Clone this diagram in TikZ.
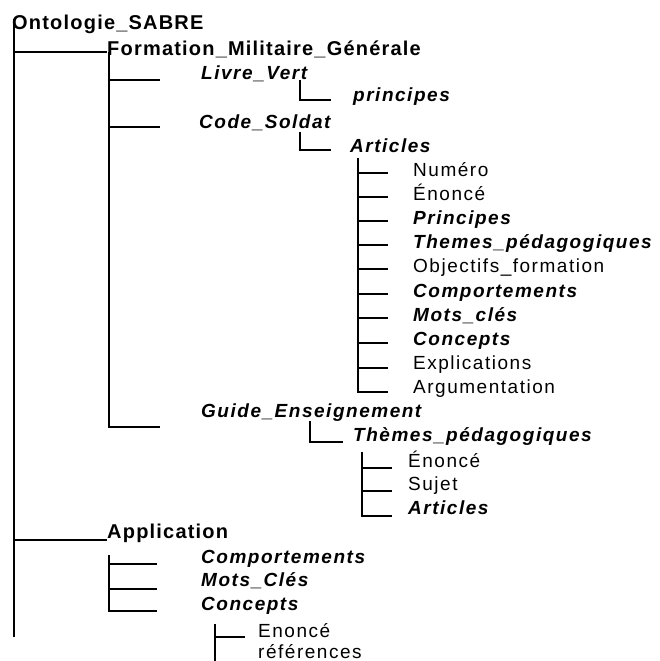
\documentclass[tikz,border=0pt]{standalone}
\usepackage{fontspec}
\newfontfamily\arial[LetterSpace=8]{Liberation Sans}
\newfontfamily\arialgrand[LetterSpace=6]{Liberation Sans}
\usepackage{tikz}

\begin{document}
\begin{tikzpicture}[
    x=1pt, y=-1pt,
    line width=2.4pt,
    text height = 1.5ex,
    text depth = .25ex,
    every node/.style={
        anchor=base west,
        inner sep=0pt,
        % texte normal
        font=\arial\fontsize{19}{21}\selectfont},
    racine/.style={font=\arialgrand\fontsize{20}{22}\selectfont\bfseries},
    classe/.style={font=\arial\fontsize{19}{21}\selectfont\bfseries\itshape}
  ]
  \useasboundingbox (0,0) rectangle (659,661);
  % racine et premier niveau
  \node (racine) [racine] at (11,30) {Ontologie\_SABRE};
  \node (formation) [racine] at (106,56) {Formation\_Militaire\_Générale};
  \node (application) [racine] at (106,538) {Application};
  % Formation_Militaire_Générale
  \node (livre) [classe] at (200,80) {Livre\_Vert};
  \node (principes) [classe] at (352,101) {principes};
  \node (code) [classe] at (198,128) {Code\_Soldat};
  \node (articles) [classe] at (349,152) {Articles};
  \node (numero) at (412,176) {Numéro};
  \node (enonce) at (412,200) {Énoncé};
  \node (principesA) [classe] at (412,224) {Principes};
  \node (themesA) [classe] at (412,248) {Themes\_pédagogiques};
  \node (objectifs) at (412,272) {Objectifs\_formation};
  \node (comportA) [classe] at (412,297) {Comportements};
  \node (motsA) [classe] at (412,321) {Mots\_clés};
  \node (conceptsA) [classe] at (412,345) {Concepts};
  \node (explications) at (412,369) {Explications};
  \node (argumentation) at (412,393) {Argumentation};
  \node (guide) [classe] at (200,417) {Guide\_Enseignement};
  \node (themesG) [classe] at (352,441) {Thèmes\_pédagogiques};
  \node (enonceG) at (407,467) {Énoncé};
  \node (sujet) at (407,490) {Sujet};
  \node (articlesG) [classe] at (407,514) {Articles};
  % Application
  \node (comportB) [classe] at (200,563) {Comportements};
  \node (motsB) [classe] at (200,586) {Mots\_Clés};
  \node (conceptsB) [classe] at (200,610) {Concepts};
  \node (enonceC) at (257,637) {Enoncé};
  \node (references) at (257,658) {références};

  % troncs
  \coordinate (r0) at (14,19);
  \coordinate (f0) at (109,52);
  \coordinate (a0) at (358,158);
  \coordinate (t0) at (362,452);
  \coordinate (p0) at (109,555);
  \coordinate (c0) at (215,624);

  \draw (r0) -- (14,637);
  \draw (r0 |- f0) -- ([xshift=1pt,yshift=4pt]formation.base west);
  \draw (r0 |- 0,540) -- ([xshift=1pt,yshift=-2pt]application.base west);

  \draw (f0) -- (109,427) -- (160,427);
  \draw (f0 |- 0,80) -- (160,80);
  \draw (f0 |- 0,127) -- (160,127);

  \draw (300,80) |- ([xshift=-21pt,yshift=1pt]principes.base west);
  \draw (300,132) |- ([xshift=-18pt,yshift=2pt]articles.base west);
  \draw (310,421) |- ([xshift=-9pt,yshift=-1pt]themesG.base west);

  \draw (a0) -- (358,392) -- (388,392);
  \draw (a0 |- 0,173) -- (388,173);
  \draw (a0 |- 0,197) -- (388,197);
  \draw (a0 |- 0,221) -- (388,221);
  \draw (a0 |- 0,245) -- (388,245);
  \draw (a0 |- 0,269) -- (388,269);
  \draw (a0 |- 0,294) -- (388,294);
  \draw (a0 |- 0,318) -- (388,318);
  \draw (a0 |- 0,343) -- (388,343);
  \draw (a0 |- 0,368) -- (388,368);

  \draw (t0) -- (362,516) -- (392,516);
  \draw (t0 |- 0,468) -- (392,468);
  \draw (t0 |- 0,491) -- (392,491);

  \draw (p0) -- (109,611) -- (157,611);
  \draw (p0 |- 0,564) -- (157,564);
  \draw (p0 |- 0,589) -- (157,589);

  \draw (c0) -- (215,661);
  \draw (c0 |- 0,637) -- (245,637);
\end{tikzpicture}
\end{document}
